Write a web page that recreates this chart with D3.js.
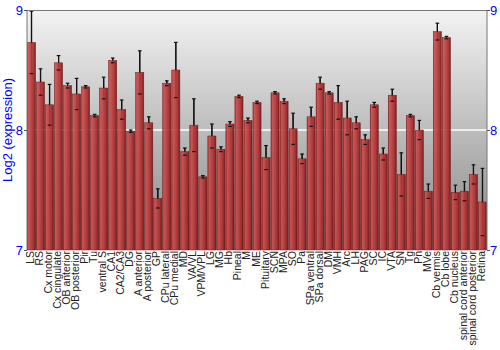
<!DOCTYPE html>
<html><head><meta charset="utf-8">
<script src="https://cdn.jsdelivr.net/npm/d3@7"></script>
<style>body{margin:0;background:#fff}svg{display:block}text{font-family:"Liberation Sans",Arial,sans-serif}</style>
</head><body>
<script>
const categories = ["LS","RS","Cx motor","Cx cingulate","OB anterior","OB posterior","Pir","Tu","ventral S","CA1","CA2/CA3","DG","A anterior","A posterior","GP","CPu lateral","CPu medial","MD","VA/VL","VPM/VPL","LG","MG","Hb","Pineal","M","ME","Pituitary","SCN","MPA","SO","Pa","SPa ventral","SPa dorsal","DM","VMH","Arc","LH","PAG","SC","IC","VTA","SN","Tg","Pn","MVe","Cb vermis","Cb lobe","Cb nucleus","spinal cord anterior","spinal cord posterior","Retina"];
const values = [8.73,8.40,8.21,8.56,8.37,8.30,8.36,8.12,8.35,8.58,8.17,7.99,8.48,8.06,7.43,8.39,8.50,7.82,8.04,7.61,7.95,7.84,8.05,8.28,8.08,8.23,7.77,8.31,8.24,8.01,7.76,8.11,8.39,8.31,8.23,8.10,8.06,7.92,8.21,7.80,8.29,7.63,8.12,8.00,7.49,8.82,8.77,7.48,7.49,7.63,7.40];
const errors = [0.26,0.11,0.17,0.06,0.02,0.13,0.01,0.01,0.09,0.02,0.08,0.01,0.18,0.05,0.08,0.02,0.23,0.03,0.22,0.01,0.10,0.02,0.02,0.01,0.02,0.01,0.10,0.01,0.02,0.13,0.04,0.08,0.05,0.01,0.14,0.14,0.05,0.04,0.02,0.05,0.05,0.18,0.01,0.08,0.06,0.07,0.01,0.06,0.08,0.08,0.28];
const yTicks = [7,8,9];

const W=500,H=350,L=27,R=487,T=10,B=250;
const svg=d3.select("body").append("svg").attr("width",W).attr("height",H);
const defs=svg.append("defs");
const bg=defs.append("linearGradient").attr("id","bg").attr("x1",0).attr("x2",0).attr("y1",0).attr("y2",1);
bg.append("stop").attr("offset","0%").attr("stop-color","#f3f3f3");
bg.append("stop").attr("offset","100%").attr("stop-color","#868686");
const bar=defs.append("linearGradient").attr("id","bar").attr("x1",0).attr("x2",1).attr("y1",0).attr("y2",0);
[["0%","#8a1c1c"],["12%","#c85050"],["35%","#c04444"],["75%","#a52a2a"],["100%","#6e1010"]].forEach(s=>bar.append("stop").attr("offset",s[0]).attr("stop-color",s[1]));

const x=d3.scaleBand().domain(categories).range([L,R]).paddingInner(0.1).paddingOuter(0.05);
const y=d3.scaleLinear().domain([7,9]).range([B,T]);

svg.append("rect").attr("x",L).attr("y",T).attr("width",R-L).attr("height",B-T).attr("fill","url(#bg)");
svg.append("line").attr("x1",L).attr("x2",R).attr("y1",y(8)).attr("y2",y(8)).attr("stroke","#fff").attr("stroke-width",1.5);

const g=svg.append("g");
categories.forEach((c,i)=>{
  const v=values[i],e=errors[i],cx=x(c)+x.bandwidth()/2;
  g.append("line").attr("x1",cx).attr("x2",cx).attr("y1",y(v+e)).attr("y2",y(Math.max(7,v-e))).attr("stroke","#111").attr("stroke-width",1.2);
  g.append("rect").attr("x",x(c)).attr("y",y(v)).attr("width",x.bandwidth()).attr("height",B-y(v)).attr("fill","url(#bar)").attr("stroke","#7a1a1a").attr("stroke-width",0.5).attr("fill-opacity",0.92);
  g.append("line").attr("x1",cx).attr("x2",cx).attr("y1",y(v+e)).attr("y2",y(v)).attr("stroke","#111").attr("stroke-width",1.2);
  [v+e,Math.max(7,v-e)].forEach(yy=>g.append("line").attr("x1",cx-1.8).attr("x2",cx+1.8).attr("y1",y(yy)).attr("y2",y(yy)).attr("stroke","#111").attr("stroke-width",1.2));
});

svg.append("line").attr("x1",L).attr("x2",R).attr("y1",T+0.5).attr("y2",T+0.5).attr("stroke","#777");
svg.append("line").attr("x1",L).attr("x2",L).attr("y1",T).attr("y2",B).attr("stroke","#777");
svg.append("line").attr("x1",R).attr("x2",R).attr("y1",T).attr("y2",B).attr("stroke","#777");

const la=svg.append("g").attr("transform",`translate(${L},0)`).call(d3.axisLeft(y).tickValues(yTicks).tickSize(3).tickFormat(d3.format("d")));
const ra=svg.append("g").attr("transform",`translate(${R},0)`).call(d3.axisRight(y).tickValues(yTicks).tickSize(3).tickFormat(d3.format("d")));
[la,ra].forEach(a=>{a.select(".domain").remove();a.selectAll("line").attr("stroke","#555");a.selectAll("text").attr("fill","#0000ff").style("font-size","13px");});
la.selectAll("text").attr("x",-4);
ra.selectAll("text").attr("x",3);

svg.append("text").attr("transform",`translate(12,${(T+B)/2}) rotate(-90)`).attr("text-anchor","middle").attr("fill","#0000ff").style("font-size","13px").text("Log2 (expression)");

categories.forEach(c=>{
  svg.append("text").attr("transform",`translate(${x(c)+x.bandwidth()/2+2.5},${B+1}) rotate(-90)`).attr("text-anchor","end").attr("fill","#222").style("font-size","10.5px").text(c);
});
</script>
</body></html>
